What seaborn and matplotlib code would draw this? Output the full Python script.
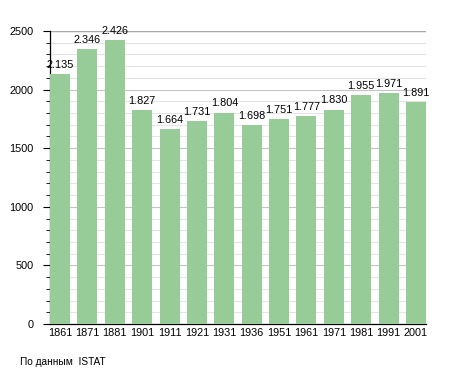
import matplotlib
matplotlib.use("Agg")
import matplotlib.pyplot as plt
from matplotlib.ticker import MultipleLocator
import seaborn as sns
import pandas as pd

years = ["1861", "1871", "1881", "1901", "1911", "1921", "1931",
         "1936", "1951", "1961", "1971", "1981", "1991", "2001"]
population = [2135, 2346, 2426, 1827, 1664, 1731, 1804,
              1698, 1751, 1777, 1830, 1955, 1971, 1891]
source = "По данным  ISTAT"

sns.set_style("white")
plt.rcParams["font.family"] = ["Liberation Sans", "DejaVu Sans"]
plt.rcParams["text.color"] = "black"
plt.rcParams["xtick.color"] = "black"
plt.rcParams["ytick.color"] = "black"
plt.rcParams["xtick.labelcolor"] = "black"
plt.rcParams["ytick.labelcolor"] = "black"

df = pd.DataFrame({"Год": years, "Население": population})

bar_w = 0.73
fig = plt.figure(figsize=(4.55, 3.73), dpi=100)
ax = fig.add_axes([50 / 455, 49 / 373, 376 / 455, 293 / 373])

sns.barplot(data=df, x="Год", y="Население", color="#97CB97",
            saturation=1, width=bar_w, ax=ax, zorder=3, linewidth=0)

ax.set_ylim(0, 2500)
ax.set_xlim(-bar_w / 2, len(years) - 1 + bar_w / 2)
ax.yaxis.set_major_locator(MultipleLocator(500))
ax.yaxis.set_minor_locator(MultipleLocator(100))
ax.grid(axis="y", which="minor", color="#e4e4e4", linewidth=0.8, zorder=0)
ax.grid(axis="y", which="major", color="#c4c4c4", linewidth=0.8, zorder=0)
ax.axhline(2500, color="#a8a8a8", linewidth=1.0, zorder=1)

for s in ["top", "right"]:
    ax.spines[s].set_visible(False)
for s in ["left", "bottom"]:
    ax.spines[s].set_color("black")
    ax.spines[s].set_linewidth(0.9)

ax.tick_params(axis="y", which="major", length=5, width=0.8, labelsize=7.8, pad=7)
ax.tick_params(axis="y", which="minor", length=3, width=0.6)
ax.tick_params(axis="x", length=0, labelsize=7.8, pad=3)
ax.yaxis.set_ticks_position("left")
ax.set_xlabel("")
ax.set_ylabel("")

for i, v in enumerate(population):
    label = f"{v:,}".replace(",", ".")
    ax.text(i, v + 35, label, ha="center", va="bottom", fontsize=7.8, zorder=4)

fig.text(20 / 455, 1 - 362 / 373, source, fontsize=7.3, va="center", ha="left")

fig.savefig("out.png", dpi=100)
